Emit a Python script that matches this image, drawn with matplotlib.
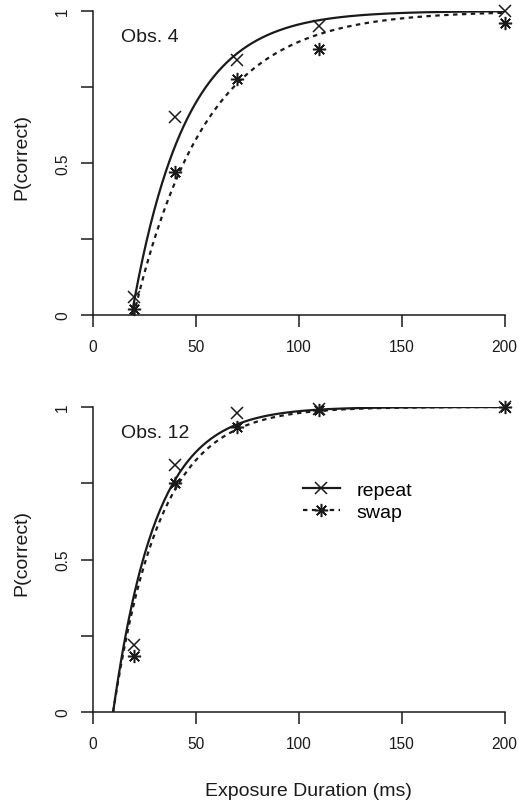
import numpy as np
import matplotlib
matplotlib.use("Agg")
import matplotlib.pyplot as plt
from matplotlib.lines import Line2D

plt.rcParams["font.family"] = ["Liberation Sans", "DejaVu Sans"]

# Observed proportions correct per exposure duration (ms)
durations = [20, 40, 70, 110, 200]
obs4_repeat = [0.06, 0.65, 0.84, 0.95, 1.00]
obs4_swap = [0.02, 0.47, 0.775, 0.875, 0.96]
obs12_repeat = [0.22, 0.81, 0.98, 0.995, 1.00]
obs12_swap = [0.185, 0.75, 0.935, 0.99, 1.00]

# Fitted exponential curves: P = 1 - exp(-(t - t0) / tau)
obs4_repeat_fit = (19.0, 26.0)
obs4_swap_fit = (20.0, 35.0)
obs12_repeat_fit = (10.0, 21.0)
obs12_swap_fit = (10.0, 23.0)

panel_labels = ["Obs. 4", "Obs. 12"]
x_ticks = [0, 50, 100, 150, 200]
y_ticks = [0, 0.25, 0.5, 0.75, 1]
y_tick_labels = ["0", "", "0.5", "", "1"]

W, H = 519, 803
fig = plt.figure(figsize=(W / 100, H / 100), dpi=100)

ASTERISK = (8, 2, 0)


def fit_curve(params, t_max=200):
    t0, tau = params
    t = np.linspace(t0, t_max, 300)
    return t, 1 - np.exp(-(t - t0) / tau)


def draw_panel(ax, repeat, swap, repeat_fit, swap_fit, label):
    t, p = fit_curve(repeat_fit)
    ax.plot(t, p, color="#1a1a1a", lw=1.6, solid_capstyle="butt")
    t, p = fit_curve(swap_fit)
    ax.plot(t, p, color="#1a1a1a", lw=1.6, ls=(0, (2, 2)))
    ax.plot(durations, repeat, ls="none", marker="x", ms=8.5, mew=1.1,
            color="#1a1a1a", clip_on=False)
    ax.plot(durations, swap, ls="none", marker=ASTERISK, ms=9.5, mew=1.1,
            color="#1a1a1a", clip_on=False)

    ax.set_xlim(0, 200)
    ax.set_ylim(0, 1)
    for side in ["top", "right"]:
        ax.spines[side].set_visible(False)
    for side in ["left", "bottom"]:
        ax.spines[side].set_linewidth(1.1)
        ax.spines[side].set_color("#1a1a1a")
    ax.set_xticks(x_ticks)
    ax.set_yticks(y_ticks)
    ax.set_yticklabels(y_tick_labels, rotation=90, va="center")
    ax.tick_params(axis="both", direction="out", length=8.6, width=1.1,
                   color="#1a1a1a", labelsize=11.2, labelcolor="#1a1a1a")
    ax.tick_params(axis="x", pad=9)
    ax.tick_params(axis="y", pad=7.5)
    ax.text(14, 0.9, label, fontsize=14, color="#1a1a1a", ha="left", va="baseline")


left = 92.5 / W
width = (504.5 - 92.5) / W

ax1 = fig.add_axes([left, 1 - 316 / H, width, (316 - 12) / H])
draw_panel(ax1, obs4_repeat, obs4_swap, obs4_repeat_fit, obs4_swap_fit, panel_labels[0])

ax2 = fig.add_axes([left, 1 - 713 / H, width, (713 - 408) / H])
draw_panel(ax2, obs12_repeat, obs12_swap, obs12_repeat_fit, obs12_swap_fit, panel_labels[1])

fig.text(22 / W, 1 - 157 / H, "P(correct)", rotation=90, fontsize=14,
         ha="center", va="center", color="#1a1a1a")
fig.text(22 / W, 1 - 553 / H, "P(correct)", rotation=90, fontsize=14,
         ha="center", va="center", color="#1a1a1a")
fig.text(308 / W, 1 - 792 / H, "Exposure Duration (ms)", fontsize=14,
         ha="center", va="center", color="#1a1a1a")

handles = [
    Line2D([], [], color="#1a1a1a", lw=1.6, marker="x", ms=8.5, mew=1.1),
    Line2D([], [], color="#1a1a1a", lw=1.6, ls=(0, (2, 2)), marker=ASTERISK,
           ms=9.5, mew=1.1),
]
ax2.legend(handles, ["repeat", "swap"], loc="upper left",
           bbox_to_anchor=((303 - 92.5) / 412, (713 - 482) / 305),
           frameon=False, fontsize=14, handlelength=1.9, handletextpad=0.85,
           labelspacing=0.25, borderpad=0, borderaxespad=0)

fig.savefig("out.png", dpi=100)
